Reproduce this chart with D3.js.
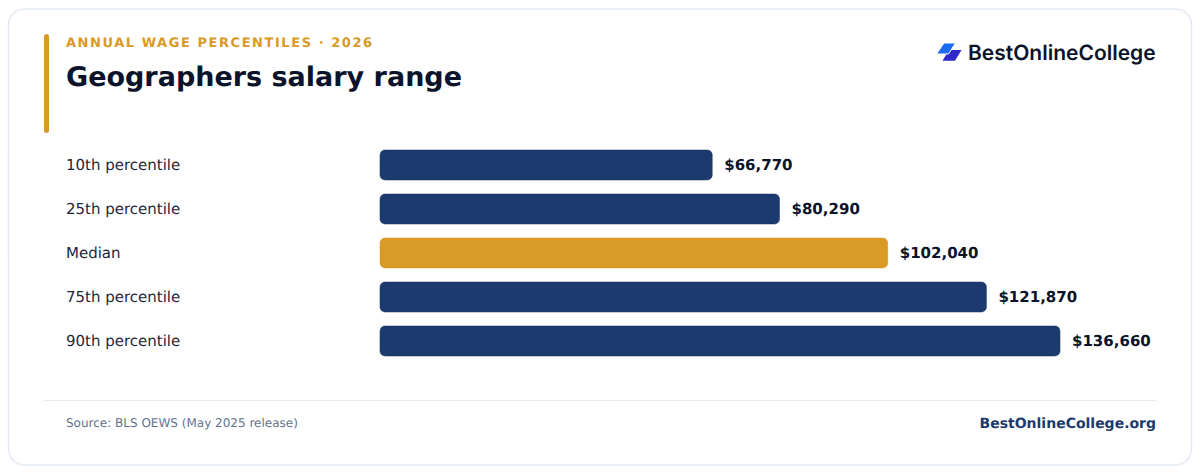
<!DOCTYPE html>
<html>
<head>
<meta charset="utf-8">
<script src="https://cdn.jsdelivr.net/npm/d3@7"></script>
<style>
  html, body { margin: 0; padding: 0; background: #fff; overflow: hidden; }
  text { font-family: "DejaVu Sans", sans-serif; text-rendering: geometricPrecision; }
</style>
</head>
<body>
<svg id="chart"></svg>
<script>
const categories = ['10th percentile', '25th percentile', 'Median', '75th percentile', '90th percentile']
const wages = [66770, 80290, 102040, 121870, 136660]
const highlighted = ['Median']

const width = 1200, height = 474
const navy = '#1c3a6e', navyEdge = '#15305f', gold = '#d99a26', ink = '#0b132b'

const svg = d3.select('#chart')
  .attr('width', width)
  .attr('height', height)
  .style('display', 'block')

// card
svg.append('rect')
  .attr('x', 8.5).attr('y', 9)
  .attr('width', 1183).attr('height', 456)
  .attr('rx', 16)
  .attr('fill', '#fff')
  .attr('stroke', '#e4e9f2')
  .attr('stroke-width', 1.5)

// header
svg.append('rect')
  .attr('x', 44).attr('y', 34)
  .attr('width', 5).attr('height', 99)
  .attr('rx', 2.5)
  .attr('fill', gold)

svg.append('text')
  .attr('x', 66).attr('y', 47)
  .attr('font-size', 13)
  .attr('font-weight', 700)
  .attr('letter-spacing', 1.56)
  .attr('fill', gold)
  .text('ANNUAL WAGE PERCENTILES · 2026')

svg.append('text')
  .attr('x', 66).attr('y', 86)
  .attr('font-size', 27)
  .attr('font-weight', 700)
  .attr('fill', ink)
  .text('Geographers salary range')

// logo
svg.append('path')
  .attr('d', 'M949 50H961.5L955 60.8H942.5Z')
  .attr('fill', '#3029c9')
svg.append('path')
  .attr('d', 'M944 43H955.5L948.5 54H936.5Z')
  .attr('fill', '#1a6cf5')
  .attr('stroke', '#fff')
  .attr('stroke-width', 1)
svg.append('text')
  .attr('x', 968).attr('y', 60)
  .attr('font-size', 21)
  .attr('font-weight', 600)
  .attr('fill', ink)
  .style('font-family', 'Inter, sans-serif')
  .text('BestOnlineCollege')

// scales
const x = d3.scaleLinear().domain([0, d3.max(wages)]).range([380, 1060])
const y = d3.scaleBand().domain(categories).range([143, 363]).paddingInner(14 / 44).paddingOuter(7 / 44)

const rows = svg.append('g')
  .selectAll('g')
  .data(categories)
  .enter()
  .append('g')

rows.append('text')
  .attr('x', 66)
  .attr('y', d => y(d) + y.bandwidth() / 2)
  .attr('dy', '0.35em')
  .attr('font-size', 15)
  .attr('fill', '#1e293b')
  .text(d => d)

rows.append('rect')
  .attr('x', x(0))
  .attr('y', d => y(d))
  .attr('width', (d, i) => x(wages[i]) - x(0))
  .attr('height', y.bandwidth())
  .attr('rx', 5)
  .attr('fill', d => highlighted.includes(d) ? gold : navy)
  .attr('stroke', d => highlighted.includes(d) ? gold : navyEdge)
  .attr('stroke-width', 0.5)

rows.append('text')
  .attr('x', (d, i) => x(wages[i]) + 12)
  .attr('y', d => y(d) + y.bandwidth() / 2)
  .attr('dy', '0.35em')
  .attr('font-size', 15)
  .attr('font-weight', 700)
  .attr('fill', ink)
  .text((d, i) => '$' + d3.format(',')(wages[i]))

// footer
svg.append('line')
  .attr('x1', 44).attr('x2', 1156)
  .attr('y1', 400.5).attr('y2', 400.5)
  .attr('stroke', '#e4e9f2')

svg.append('text')
  .attr('x', 66).attr('y', 427)
  .attr('font-size', 12)
  .attr('fill', '#64748b')
  .text('Source: BLS OEWS (May 2025 release)')

svg.append('text')
  .attr('x', 1156).attr('y', 428)
  .attr('text-anchor', 'end')
  .attr('font-size', 14)
  .attr('font-weight', 700)
  .attr('fill', navy)
  .text('BestOnlineCollege.org')
</script>
</body>
</html>
